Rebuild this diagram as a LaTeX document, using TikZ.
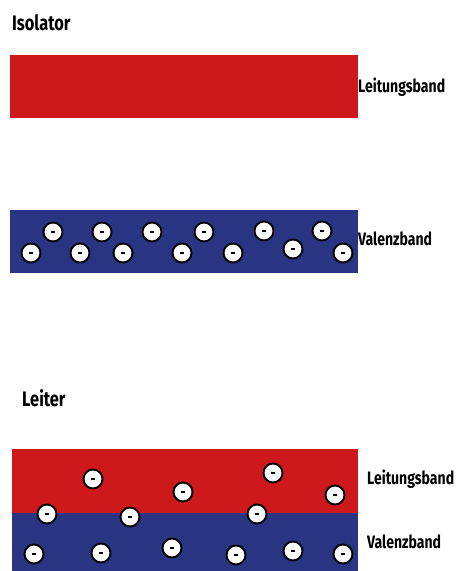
\documentclass[tikz,border=0pt]{standalone}
\usepackage{fontspec}
\setmainfont[FakeStretch=0.78]{Fira Sans}
\definecolor{bandred}{RGB}{205,24,28}
\definecolor{bandblue}{RGB}{41,53,131}
\tikzset{
  band/.style={draw=none, inner sep=0pt, anchor=north west},
  redband/.style={band, fill=bandred},
  blueband/.style={band, fill=bandblue},
  electron/.style={circle, draw=black, line width=1.9pt, fill=white, minimum size=19pt, inner sep=0pt,
    path picture={\draw[line width=1.6pt] ([xshift=-2.2pt]path picture bounding box.center) -- ([xshift=2.2pt]path picture bounding box.center);}},
  title/.style={font=\fontsize{21}{23}\selectfont\bfseries, anchor=base west, inner sep=0pt},
  blabel/.style={font=\fontsize{18}{20}\selectfont\bfseries, anchor=west, inner sep=0pt}
}
\begin{document}
\begin{tikzpicture}[x=1pt,y=-1pt]
\useasboundingbox (0,0) rectangle (456,571);
% Isolator
\node[title] (tiso) at (12,30) {Isolator};
\node[redband, minimum width=348pt, minimum height=63pt] (lb1) at (10,55) {};
\node[blueband, minimum width=348pt, minimum height=63pt] (vb1) at (10,210) {};
\node[blabel] (llb1) at (358,87) {Leitungsband};
\node[blabel] (lvb1) at (358,239) {Valenzband};
\foreach \n/\x/\y in {a1/53/232, a2/31/253, a3/102/232, a4/80/253, a5/123/253, a6/152/232, a7/182/253,
  a8/204/232, a9/233/253, a10/264/231, a11/293/249, a12/322/231, a13/343/253}
  \node[electron] (\n) at (\x,\y) {};
% Leiter
\node[title] (tlei) at (22,406) {Leiter};
\node[redband, minimum width=346pt, minimum height=64pt] (lb2) at (12,449) {};
\node[blueband, minimum width=346pt, minimum height=58pt] (vb2) at (12,513) {};
\node[blabel] (llb2) at (367,479) {Leitungsband};
\node[blabel] (lvb2) at (367,542) {Valenzband};
\foreach \n/\x/\y in {b1/93/479, b2/183/492, b3/273/473, b4/335/495, b5/47/514, b6/130/517, b7/257/514,
  b8/34/554, b9/101/553, b10/172/548, b11/236/555, b12/293/551, b13/343/554}
  \node[electron] (\n) at (\x,\y) {};
\end{tikzpicture}
\end{document}
